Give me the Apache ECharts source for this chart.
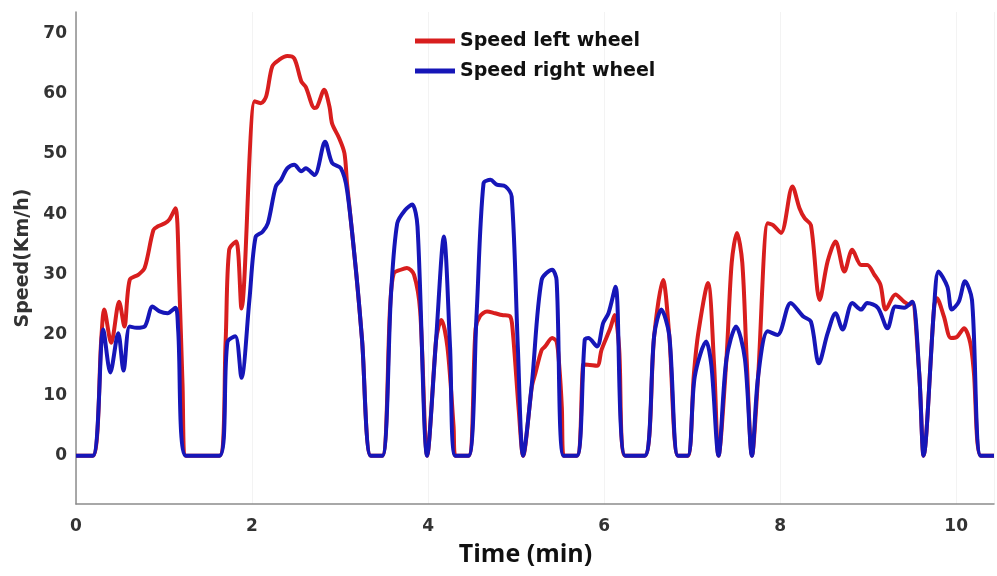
<!DOCTYPE html>
<html>
<head>
<meta charset="utf-8">
<script src="https://cdn.jsdelivr.net/npm/echarts@6/dist/echarts.min.js"></script>
<style>html,body{margin:0;padding:0;background:#fff}#c{width:997px;height:576px}</style>
</head>
<body>
<div id="c"></div>
<script>
// [time (min), speed (km/h)]
const leftWheel = [[0,0],[0.19,0],[0.29,20],[0.32,24.2],[0.40,18.7],[0.49,25.5],[0.55,21.4],[0.61,29.1],[0.71,30],[0.78,31.1],[0.88,37.4],[0.93,38],[1.01,38.5],[1.06,39.1],[1.13,41],[1.17,30],[1.21,12],[1.25,0],[1.63,0],[1.70,19],[1.74,34.1],[1.82,35.5],[1.88,24.4],[2.03,58.7],[2.10,58.4],[2.16,59.5],[2.23,64.5],[2.31,65.6],[2.40,66.2],[2.48,65.8],[2.56,62],[2.61,61.1],[2.71,57.6],[2.74,57.8],[2.82,60.6],[2.88,57.8],[2.91,55],[2.99,52.6],[3.05,50.1],[3.08,45],[3.18,30.8],[3.25,19.2],[3.35,0],[3.48,0],[3.57,25],[3.61,30.2],[3.69,30.8],[3.76,31.1],[3.84,30],[3.91,24],[3.99,0],[4.09,19],[4.12,21.4],[4.15,22.5],[4.22,18],[4.29,4.8],[4.31,0],[4.46,0],[4.54,21],[4.59,23.1],[4.67,23.9],[4.76,23.6],[4.84,23.3],[4.93,23.1],[4.96,21],[5.03,7.6],[5.08,0],[5.18,11.5],[5.22,13.7],[5.29,17.5],[5.33,18.1],[5.41,19.5],[5.46,18.9],[5.49,15],[5.52,8],[5.54,0],[5.69,0],[5.76,15],[5.78,15.1],[5.92,14.9],[5.97,17.5],[6.07,21.1],[6.12,23.3],[6.17,18],[6.24,0],[6.46,0],[6.57,20],[6.67,29.1],[6.74,20],[6.84,0],[6.95,0],[7.02,13.5],[7.07,20.3],[7.18,28.6],[7.25,15],[7.30,0],[7.39,16],[7.45,32],[7.51,36.9],[7.57,32],[7.62,16],[7.68,0],[7.75,13.1],[7.86,38.5],[7.92,38.2],[8.01,36.9],[8.14,44.6],[8.22,41],[8.28,39.3],[8.35,38.2],[8.45,25.8],[8.54,32.2],[8.63,35.5],[8.73,30.5],[8.82,34.1],[8.92,31.6],[8.99,31.6],[9.07,30],[9.14,28.3],[9.20,24.2],[9.31,26.7],[9.41,25.5],[9.47,25],[9.50,25.5],[9.58,13.7],[9.63,0],[9.75,24.7],[9.78,26.1],[9.86,23.1],[9.94,19.5],[10.01,19.7],[10.09,21.1],[10.16,18.7],[10.20,14],[10.28,0],[10.43,0]];

const rightWheel = [[0,0],[0.19,0],[0.31,20.9],[0.39,13.8],[0.48,20.3],[0.54,14.1],[0.61,21.4],[0.69,21.2],[0.78,21.4],[0.87,24.7],[0.95,23.9],[1.04,23.6],[1.13,24.5],[1.16,21],[1.25,0],[1.63,0],[1.72,18.8],[1.81,19.8],[1.88,12.9],[1.97,25.8],[2.04,36.2],[2.12,37.1],[2.18,38.5],[2.27,44.6],[2.33,45.7],[2.40,47.6],[2.48,48.2],[2.56,47.1],[2.61,47.6],[2.71,46.5],[2.83,52],[2.91,48.5],[3.01,47.6],[3.08,44],[3.18,30.8],[3.25,19.2],[3.35,0],[3.48,0],[3.58,27],[3.65,38.5],[3.74,40.7],[3.82,41.6],[3.88,38],[3.99,0],[4.09,19],[4.18,36.3],[4.25,18],[4.31,0],[4.46,0],[4.55,23],[4.63,45.1],[4.71,45.7],[4.78,44.9],[4.88,44.6],[4.95,42.9],[5.02,18],[5.08,0],[5.18,12],[5.29,29.1],[5.41,30.8],[5.46,29.1],[5.54,0],[5.69,0],[5.78,19.2],[5.82,19.5],[5.92,18.1],[5.99,22],[6.05,23.6],[6.13,28],[6.24,0],[6.46,0],[6.57,20],[6.65,24.2],[6.74,20],[6.84,0],[6.95,0],[7.03,13.1],[7.16,18.9],[7.22,14.8],[7.30,0],[7.39,16],[7.50,21.4],[7.60,16],[7.68,0],[7.75,13.1],[7.86,20.6],[7.97,20],[8.12,25.3],[8.26,23.1],[8.35,22.2],[8.44,15.3],[8.54,20.3],[8.63,23.6],[8.71,20.9],[8.82,25.3],[8.92,24.2],[8.99,25.3],[9.11,24.5],[9.22,21.1],[9.31,24.7],[9.41,24.5],[9.50,25.5],[9.58,13.7],[9.63,0],[9.75,24.7],[9.80,30.5],[9.90,28],[9.95,24.2],[10.03,25.5],[10.10,28.9],[10.18,25.8],[10.28,0],[10.43,0]];

const seriesNames = ['Speed left wheel', 'Speed right wheel'];
const xTickStep = 2;
const yTickLabels = [0, 10, 20, 30, 40, 50, 60, 70];

const chart = echarts.init(document.getElementById('c'), null, {renderer: 'canvas'});
const boldFont = 'DejaVu Sans';
chart.setOption({
  backgroundColor: '#ffffff',
  animation: false,
  grid: {left: 76, right: 0, top: 12, bottom: 72},
  legend: {
    orient: 'vertical', left: 410, top: 25, itemWidth: 40, itemHeight: 5, itemGap: 8, icon: 'rect',
    textStyle: {fontFamily: boldFont, fontWeight: 'bold', fontSize: 19, color: '#111', lineHeight: 22},
    data: seriesNames
  },
  xAxis: {
    type: 'value', min: 0, max: 10.43, interval: xTickStep,
    name: 'Time (min)', nameLocation: 'middle', nameGap: 38,
    nameTextStyle: {fontFamily: 'Open Sans', fontWeight: 'bold', fontSize: 25, color: '#111', padding: [0, 19, 0, 0]},
    axisLine: {onZero: false, lineStyle: {color: '#8c8c8c', width: 1.5}},
    axisTick: {show: false},
    splitLine: {show: true, lineStyle: {color: '#f3f3f3'}},
    axisLabel: {fontFamily: boldFont, fontWeight: 'bold', fontSize: 17, color: '#333', margin: 14,
      formatter: v => (Math.abs(v % xTickStep) < 1e-9 ? String(v) : '')}
  },
  yAxis: {
    type: 'value', min: -8, max: 73.5, interval: 2,
    name: 'Speed(Km/h)', nameLocation: 'middle', nameGap: 42,
    nameTextStyle: {fontFamily: boldFont, fontWeight: 'bold', fontSize: 19, color: '#333'},
    axisLine: {show: true, onZero: false, lineStyle: {color: '#8c8c8c', width: 1.5}},
    axisTick: {show: false},
    splitLine: {show: false},
    axisLabel: {fontFamily: boldFont, fontWeight: 'bold', fontSize: 17, color: '#333', margin: 9,
      formatter: v => (yTickLabels.indexOf(v) >= 0 ? String(v) : '')}
  },
  series: [
    {name: seriesNames[0], type: 'line', data: leftWheel, showSymbol: false, smooth: 0.3,
     color: '#d81e1e', lineStyle: {width: 4, color: '#d81e1e'}},
    {name: seriesNames[1], type: 'line', data: rightWheel, showSymbol: false, smooth: 0.3,
     color: '#1616b8', lineStyle: {width: 4, color: '#1616b8'}}
  ]
});
</script>
</body>
</html>
